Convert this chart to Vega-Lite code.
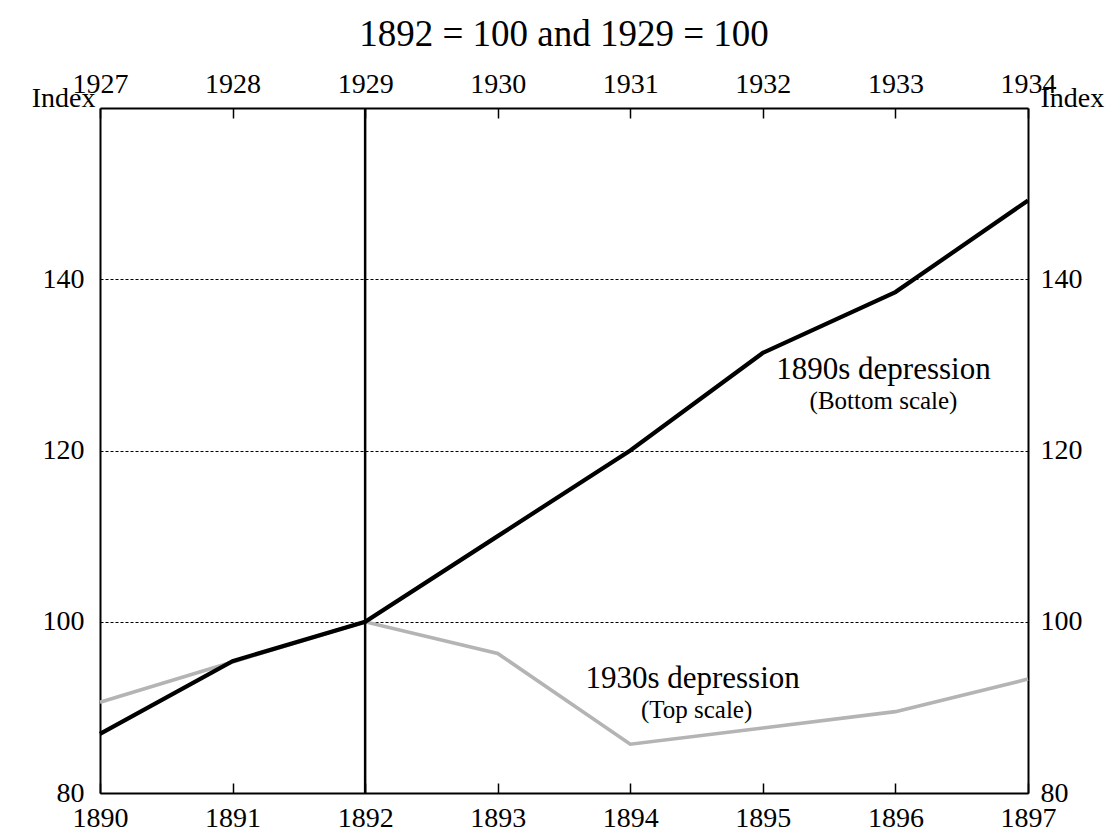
{
  "$schema": "https://vega.github.io/schema/vega-lite/v6.json",
  "width": 928,
  "height": 685,
  "autosize": {"type": "none"},
  "padding": {"left": 100, "top": 108, "right": 88, "bottom": 46},
  "background": "white",
  "config": {
    "font": "Liberation Serif",
    "view": {"stroke": null},
    "axis": {
      "domainColor": "black",
      "domainWidth": 2,
      "labelFontSize": 28,
      "labelColor": "black",
      "labelFont": "Liberation Serif",
      "tickColor": "black",
      "tickWidth": 1.5,
      "titleFont": "Liberation Serif",
      "titleFontSize": 28,
      "titleFontWeight": "normal",
      "titleColor": "black",
      "grid": false,
      "labelOverlap": false,
      "labelBound": false
    }
  },
  "title": {
    "text": "1892 = 100 and 1929 = 100",
    "font": "Liberation Serif",
    "fontSize": 37,
    "fontWeight": "normal",
    "color": "black",
    "anchor": "middle",
    "frame": "group",
    "offset": 16
  },
  "datasets": {
    "s1890s": [
      {"year": 1890, "index": 86.9},
      {"year": 1891, "index": 95.4},
      {"year": 1892, "index": 100},
      {"year": 1893, "index": 110},
      {"year": 1894, "index": 120},
      {"year": 1895, "index": 131.4},
      {"year": 1896, "index": 138.5},
      {"year": 1897, "index": 149.2}
    ],
    "s1930s": [
      {"year": 1927, "index": 90.6},
      {"year": 1928, "index": 95.3},
      {"year": 1929, "index": 100},
      {"year": 1930, "index": 96.3},
      {"year": 1931, "index": 85.7},
      {"year": 1932, "index": 87.6},
      {"year": 1933, "index": 89.5},
      {"year": 1934, "index": 93.3}
    ],
    "ref": [{"year": 1892}],
    "notes": [
      {"year": 1895.91, "index": 128.3, "line": "main", "label": "1890s depression"},
      {"year": 1895.91, "index": 124.9, "line": "sub", "label": "(Bottom scale)"},
      {"year": 1894.47, "index": 92.3, "line": "main", "label": "1930s depression"},
      {"year": 1894.5, "index": 88.8, "line": "sub", "label": "(Top scale)"}
    ]
  },
  "layer": [
    {
      "data": {"name": "s1930s"},
      "mark": {"type": "line", "color": "#b4b4b4", "strokeWidth": 3.6},
      "encoding": {
        "x": {
          "field": "year",
          "type": "quantitative",
          "scale": {"domain": [1927, 1934], "nice": false, "zero": false},
          "axis": {
            "orient": "top",
            "title": null,
            "values": [1927, 1928, 1929, 1930, 1931, 1932, 1933, 1934],
            "format": "d",
            "tickSize": -10,
            "labelPadding": 20,
            "labelFlush": false
          }
        },
        "y": {
          "field": "index",
          "type": "quantitative",
          "scale": {"domain": [80, 160], "nice": false, "zero": false},
          "axis": {
            "orient": "right",
            "values": [80, 100, 120, 140],
            "ticks": false,
            "labelPadding": 12,
            "title": "Index",
            "titleAngle": 0,
            "titleAlign": "left",
            "titleBaseline": "middle",
            "titleX": 12,
            "titleY": -10
          }
        }
      }
    },
    {
      "layer": [
        {
          "data": {"name": "s1890s"},
          "mark": {"type": "line", "color": "black", "strokeWidth": 4.2},
          "encoding": {
            "x": {
              "field": "year",
              "type": "quantitative",
              "scale": {"domain": [1890, 1897], "nice": false, "zero": false},
              "axis": {
                "orient": "bottom",
                "title": null,
                "values": [1890, 1891, 1892, 1893, 1894, 1895, 1896, 1897],
                "format": "d",
                "tickSize": -10,
                "labelPadding": 21,
                "labelFlush": false
              }
            },
            "y": {
              "field": "index",
              "type": "quantitative",
              "scale": {"domain": [80, 160], "nice": false, "zero": false},
              "axis": {
                "orient": "left",
                "values": [80, 100, 120, 140],
                "ticks": false,
                "labelPadding": 16,
                "grid": true,
                "gridDash": [3, 2],
                "gridColor": "black",
                "gridWidth": 1,
                "title": "Index",
                "titleAngle": 0,
                "titleAlign": "right",
                "titleBaseline": "middle",
                "titleX": -5,
                "titleY": -10
              }
            }
          }
        },
        {
          "data": {"name": "ref"},
          "mark": {"type": "rule", "color": "black", "strokeWidth": 2.5},
          "encoding": {"x": {"field": "year", "type": "quantitative"}}
        },
        {
          "data": {"name": "notes"},
          "transform": [{"filter": "datum.line === 'main'"}],
          "mark": {"type": "text", "fontSize": 31, "color": "black", "align": "center", "baseline": "alphabetic", "font": "Liberation Serif"},
          "encoding": {
            "x": {"field": "year", "type": "quantitative"},
            "y": {"field": "index", "type": "quantitative"},
            "text": {"field": "label"}
          }
        },
        {
          "data": {"name": "notes"},
          "transform": [{"filter": "datum.line === 'sub'"}],
          "mark": {"type": "text", "fontSize": 25, "color": "black", "align": "center", "baseline": "alphabetic", "font": "Liberation Serif"},
          "encoding": {
            "x": {"field": "year", "type": "quantitative"},
            "y": {"field": "index", "type": "quantitative"},
            "text": {"field": "label"}
          }
        }
      ]
    }
  ],
  "resolve": {
    "scale": {"x": "independent", "y": "independent"},
    "axis": {"x": "independent", "y": "independent"}
  }
}
